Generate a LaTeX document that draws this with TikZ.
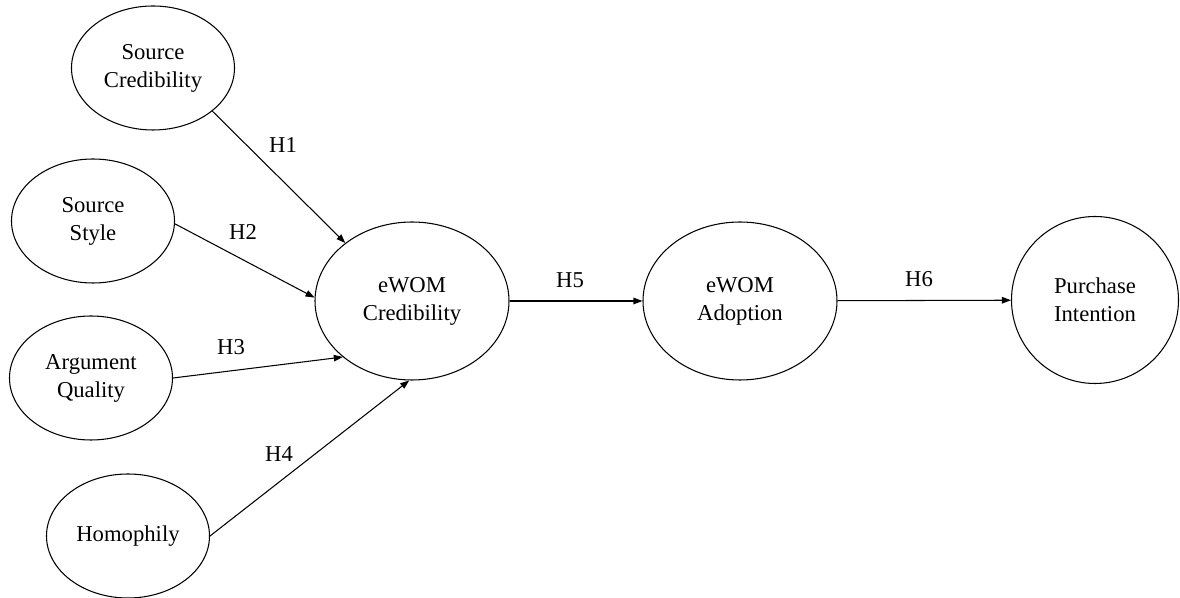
\documentclass[tikz,border=0pt]{standalone}
\usepackage{fontspec}
\setmainfont{Liberation Serif}
\usetikzlibrary{shapes.geometric,arrows.meta}

\begin{document}
\begin{tikzpicture}[>={Triangle[length=1.8mm,width=1.3mm]}, line width=0.6pt,
        every node/.style={font=\fontsize{12.9}{15.9}\selectfont},
        construct/.style={draw, ellipse, align=center, inner sep=0pt, minimum width=3.26cm, minimum height=2.48cm},
        bigconstruct/.style={construct, minimum width=3.88cm, minimum height=3.16cm}]
        \useasboundingbox (0,0) rectangle (23.6,-11.96);
        % antecedents
        \node[construct] (srccred) at (3.06,-1.36) {Source\\Credibility};
        \node[construct] (srcstyle) at (1.86,-4.42) {Source\\Style};
        \node[construct] (argq) at (1.82,-7.56) {Argument\\Quality};
        \node[construct] (homo) at (2.56,-10.72) {Homophily};
        % main chain
        \node[bigconstruct] (ecred) at (8.24,-6.02) {eWOM\\Credibility};
        \node[bigconstruct] (eadopt) at (14.8,-6.02) {eWOM\\Adoption};
        \node[draw, circle, align=center, inner sep=0pt, minimum size=3.34cm] (pint) at (21.9,-6.0) {Purchase\\Intention};
        % hypotheses
        \node (lh1) at (5.66,-2.90) {H1};
        \node (lh2) at (4.86,-4.64) {H2};
        \node (lh3) at (4.62,-6.94) {H3};
        \node (lh4) at (5.58,-9.08) {H4};
        \node (lh5) at (11.40,-5.60) {H5};
        \node (lh6) at (18.38,-5.58) {H6};
        \draw[->] (srccred.-36.7) -- (ecred.139.5);
        \draw[->] (srcstyle.-2) -- (ecred.178);
        \draw[->] (argq.east) -- (ecred.219.5);
        \draw[->] (homo.east) -- (ecred.268.5);
        \draw[->] (ecred) -- (eadopt);
        \draw[->] (eadopt) -- (pint);
\end{tikzpicture}
\end{document}
